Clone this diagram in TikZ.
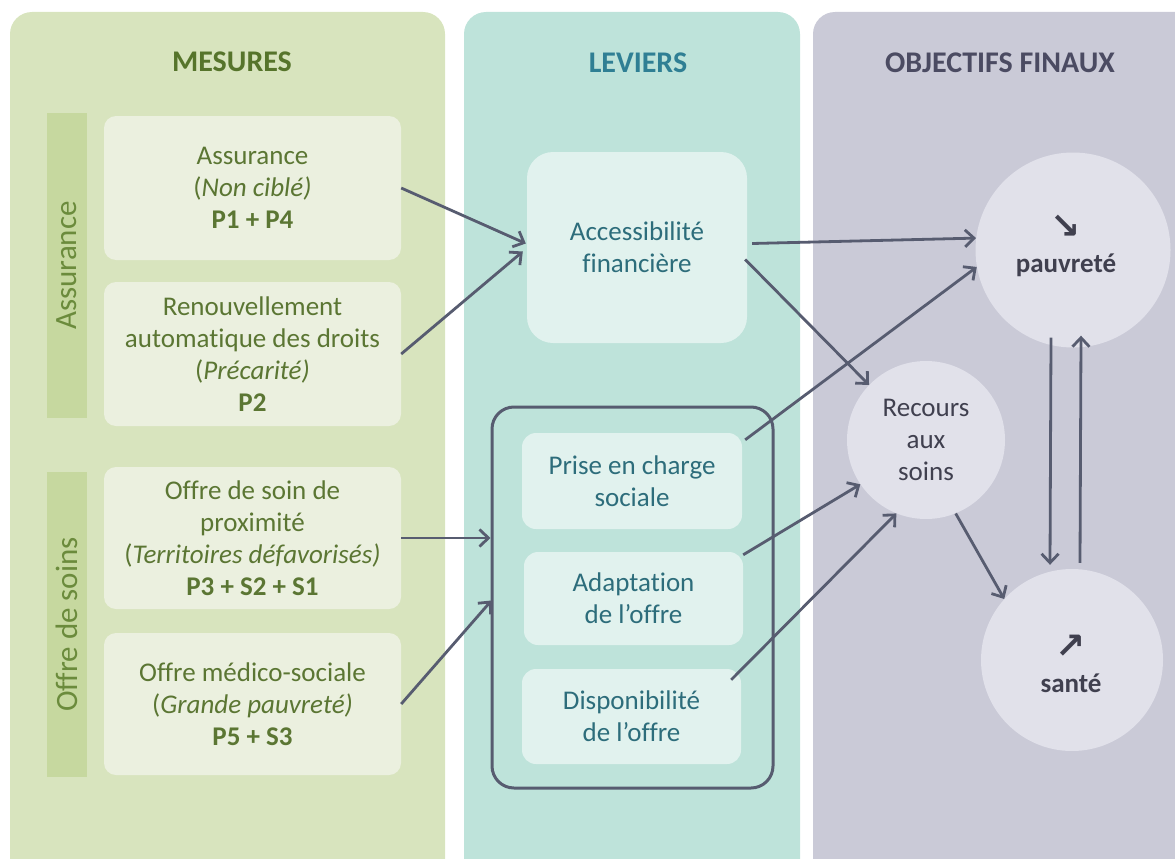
\documentclass[tikz,border=0pt]{standalone}
\usepackage{fontspec}
\setmainfont{Carlito}[Ligatures=NoCommon]
\newfontfamily\arrowfont{DejaVu Sans}
\usetikzlibrary{arrows.meta,calc}
\definecolor{pgreen}{HTML}{D8E4BE}
\definecolor{sidegreen}{HTML}{C6D89F}
\definecolor{mfill}{HTML}{EBF0DF}
\definecolor{mtext}{HTML}{5B7633}
\definecolor{hgreen}{HTML}{56742B}
\definecolor{sidetext}{HTML}{6B8B3C}
\definecolor{pteal}{HTML}{BEE3DA}
\definecolor{lfill}{HTML}{E1F2EE}
\definecolor{ltext}{HTML}{2D6D7B}
\definecolor{hteal}{HTML}{2F7F94}
\definecolor{pgrey}{HTML}{CACAD7}
\definecolor{cfill}{HTML}{E1E1EA}
\definecolor{ctext}{HTML}{40404F}
\definecolor{hgrey}{HTML}{4B4B62}
\definecolor{arr}{HTML}{575C70}
\tikzset{
  hdr/.style={font=\fontsize{30}{32}\selectfont\bfseries, inner sep=0pt},
  mbox/.style={fill=mfill, rounded corners=12pt, minimum width=297pt, align=center,
    text=mtext, font=\fontsize{27}{32}\selectfont, inner sep=0pt},
  sidebar/.style={fill=sidegreen, rotate=90, minimum width=305pt, minimum height=40pt,
    inner sep=0pt, text=sidetext, font=\fontsize{31}{32}\selectfont},
  lbox/.style={fill=lfill, rounded corners=14pt, align=center, text=ltext,
    font=\fontsize{27}{32}\selectfont, inner sep=0pt},
  goal/.style={circle, fill=cfill, align=center, text=ctext, inner sep=0pt,
    font=\fontsize{27}{32}\selectfont},
  conn/.style={draw=arr, line width=2.8pt, -{Straight Barb[length=9pt,width=17pt]}}
}
\begin{document}
\begin{tikzpicture}[x=1pt,y=-1pt]
\useasboundingbox (0,0) rectangle (1175,859);
% panels
\fill[pgreen, rounded corners=22pt] (10,12) rectangle (445,900);
\fill[pteal, rounded corners=22pt] (464,12) rectangle (800,900);
\fill[pgrey, rounded corners=22pt] (813,12) rectangle (1200,900);
% headers
\node[hdr, text=hgreen] (hm) at (232,62) {MESURES};
\node[hdr, text=hteal] (hl) at (638,63) {LEVIERS};
\node[hdr, text=hgrey] (ho) at (1000,63) {OBJECTIFS FINAUX};
% side bars
\node[sidebar] (s1) at (67,265.5) {Assurance};
\node[sidebar] (s2) at (67,624.5) {Offre de soins};
% measures
\node[mbox, minimum height=144pt] (m1) at (252.5,188) {Assurance\\(\textit{Non ciblé)}\\\textbf{P1 + P4}};
\node[mbox, minimum height=144pt] (m2) at (252.5,354) {Renouvellement\\automatique des droits\\(\textit{Précarité)}\\\textbf{P2}};
\node[mbox, minimum height=142pt] (m3) at (252.5,538) {Offre de soin de\\proximité\\(\textit{Territoires défavorisés)}\\\textbf{P3 + S2 + S1}};
\node[mbox, minimum height=142pt] (m4) at (252.5,704) {Offre médico-sociale\\(\textit{Grande pauvreté)}\\\textbf{P5 + S3}};
% levers
\node[lbox, rounded corners=26pt, minimum width=220pt, minimum height=191pt] (acc) at (637,247.5) {Accessibilité\\financière};
\node[draw=arr, line width=3pt, rounded corners=22pt, minimum width=281pt, minimum height=381pt, inner sep=0pt] (big) at (632.5,597.5) {};
\node[lbox, minimum width=220pt, minimum height=96pt] (l1) at (632,481) {Prise en charge\\sociale};
\node[lbox, minimum width=219pt, minimum height=93pt] (l2) at (633.5,598.5) {Adaptation\\de l’offre};
\node[lbox, minimum width=219pt, minimum height=95pt] (l3) at (631.5,716.5) {Disponibilité\\de l’offre};
% goals
\node[goal, minimum size=195pt] (pauv) at (1073,250) {};
\node[text=ctext, align=center, font=\fontsize{27}{34}\selectfont\bfseries, inner sep=0pt] (pauvt) at (1066,246) {{\arrowfont\fontsize{36}{34}\selectfont\bfseries ↘}\\pauvreté};
\node[goal, minimum size=158pt] (rec) at (926,440) {Recours\\aux\\soins};
\node[goal, minimum size=182pt] (sante) at (1072,660) {};
\node[text=ctext, align=center, font=\fontsize{27}{34}\selectfont\bfseries, inner sep=0pt] (santet) at (1071,664) {{\arrowfont\fontsize{36}{34}\selectfont\bfseries ↗}\\santé};
% connectors
\draw[conn] (m1.east) -- ($(acc.west)+(-1,-4)$);
\draw[conn] (m2.east) -- ($(acc.west)+(-4,4)$);
\draw[conn] (m3.east) -- (m3.east -| big.west);
\draw[conn] (m4.east) -- ($(big.west)+(1,3)$);
\draw[conn] ($(acc.east)+(5,-4)$) -- (pauv.173);
\draw[conn] ($(acc.east)+(-2,12)$) -- (rec.136);
\draw[conn] ($(l1.north east)+(3,7)$) -- (pauv.190);
\draw[conn] ($(l2.north east)+(0,3)$) -- (rec.214);
\draw[conn] ($(l3.north east)+(-10,11)$) -- (rec.248);
\draw[conn] (rec.292) -- (sante.138);
\draw[conn] ($(pauv.south)+(-22,-10)$) -- ($(sante.north)+(-22,-4)$);
\draw[conn] ($(sante.north)+(8,-6)$) -- ($(pauv.south)+(8,-12)$);
\end{tikzpicture}
\end{document}
